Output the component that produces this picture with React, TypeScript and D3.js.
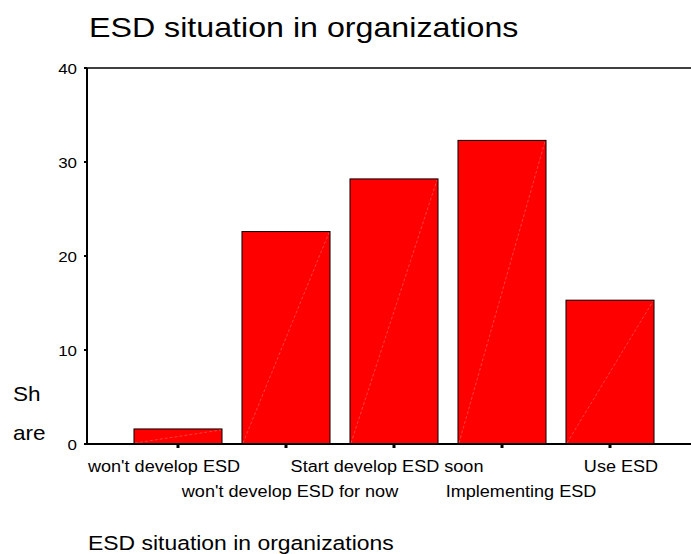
import React from "react";
import * as d3 from "d3";

// Share (%) of organizations by ESD situation
const categories: string[] = [
  "won't develop ESD",
  "won't develop ESD for now",
  "Start develop ESD soon",
  "Implementing ESD",
  "Use ESD",
];
const shares: number[] = [1.6, 22.6, 28.2, 32.3, 15.3];
const yTicks: number[] = [0, 10, 20, 30, 40];

const W = 691;
const H = 554;
const FONT = "'Liberation Sans', Arial, Helvetica, sans-serif";
const STRETCH = 1.13;

// label row (0 = upper, 1 = lower) and horizontal nudge for staggered category labels
const labelRow = [0, 1, 0, 1, 0];
const labelShift = [-14, 4, -7, 19, 11];

function SText({
  x,
  y,
  size,
  anchor = "start",
  children,
}: {
  x: number;
  y: number;
  size: number;
  anchor?: "start" | "middle" | "end";
  children: React.ReactNode;
}) {
  return (
    <text
      transform={`translate(${x},${y}) scale(${STRETCH},1)`}
      fontFamily={FONT}
      fontSize={size}
      textAnchor={anchor}
      fill="#000"
    >
      {children}
    </text>
  );
}

export default function App() {
  const left = 87;
  const right = W;
  const top = 68;
  const bottom = 444;

  const x = d3
    .scaleBand<string>()
    .domain(categories)
    .range([124, 664])
    .paddingInner(0.185)
    .paddingOuter(0.0925);
  const y = d3.scaleLinear().domain([0, 40]).range([bottom, top]);

  return (
    <svg
      width={W}
      height={H}
      style={{ position: "absolute", left: 0, top: 0, background: "#fff" }}
    >
      <SText x={89} y={37} size={28.5}>
        ESD situation in organizations
      </SText>

      {/* bars */}
      {categories.map((c, i) => {
        const x0 = x(c)!;
        const bw = x.bandwidth();
        const yt = y(shares[i]);
        return (
          <g key={c}>
            <rect
              x={x0}
              y={yt}
              width={bw}
              height={bottom - yt}
              fill="#ff0000"
              stroke="#000"
              strokeWidth={1}
            />
            <line
              x1={x0 + 1}
              y1={bottom - 1}
              x2={x0 + bw - 1}
              y2={yt + 1}
              stroke="#ffffff"
              strokeOpacity={0.35}
              strokeWidth={0.7}
              strokeDasharray="3 2"
            />
          </g>
        );
      })}

      {/* frame */}
      <line x1={left} y1={top} x2={right} y2={top} stroke="#000" strokeWidth={1.5} />
      <line x1={left} y1={top} x2={left} y2={bottom + 1} stroke="#000" strokeWidth={2} />
      <line x1={left - 1} y1={bottom} x2={right} y2={bottom} stroke="#000" strokeWidth={2} />

      {/* y ticks */}
      {yTicks.map((t) => (
        <g key={t}>
          <line x1={left - 3} x2={left} y1={y(t)} y2={y(t)} stroke="#000" strokeWidth={2} />
          <SText x={77} y={y(t) + 6} size={15} anchor="end">
            {t}
          </SText>
        </g>
      ))}

      {/* x ticks and labels */}
      {categories.map((c, i) => {
        const cx = x(c)! + x.bandwidth() / 2;
        return (
          <g key={c}>
            <line x1={cx} x2={cx} y1={bottom} y2={bottom + 4} stroke="#000" strokeWidth={3} />
            <SText
              x={cx + labelShift[i]}
              y={labelRow[i] === 0 ? 472 : 497}
              size={16}
              anchor="middle"
            >
              {c}
            </SText>
          </g>
        );
      })}

      {/* y axis title */}
      <SText x={13} y={401} size={20}>
        Sh
      </SText>
      <SText x={13} y={440} size={20}>
        are
      </SText>

      {/* x axis title */}
      <SText x={88} y={550} size={20.3}>
        ESD situation in organizations
      </SText>
    </svg>
  );
}
